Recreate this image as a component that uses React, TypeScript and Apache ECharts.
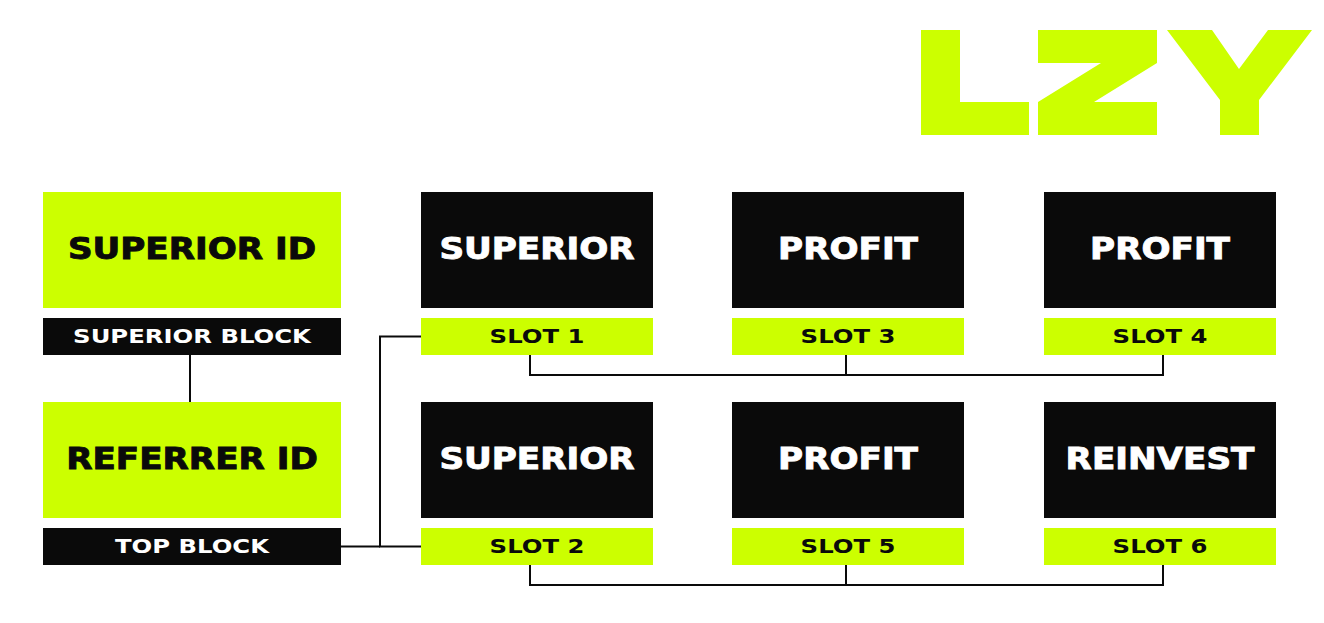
import { useEffect, useRef } from "react";
import * as echarts from "echarts";

const LIME = "#ccff00";
const INK = "#0a0a0a";
const FONT = "DejaVu Sans";

// left column: id box label + block tag
const idLabels = ["SUPERIOR ID", "REFERRER ID"];
const blockLabels = ["SUPERIOR BLOCK", "TOP BLOCK"];
// slot grid, row by row
const topLabels = [
  ["SUPERIOR", "PROFIT", "PROFIT"],
  ["SUPERIOR", "PROFIT", "REINVEST"],
];
const slotLabels = [
  ["SLOT 1", "SLOT 3", "SLOT 4"],
  ["SLOT 2", "SLOT 5", "SLOT 6"],
];

const colX = [421, 732, 1044];
const colW = 232;
const rowY = [192, 402];
const topH = 116;
const tagY = 126;
const tagH = 37;
const joinX = [530, 846, 1163];

const bigText = (cx: number, cy: number, text: string, fill: string) => ({
  type: "text",
  x: cx,
  y: cy - 1,
  scaleX: 1.14,
  style: {
    x: 0,
    y: 0,
    text,
    fill,
    stroke: fill,
    lineWidth: 0.9,
    font: `bold 30px "${FONT}"`,
    textAlign: "center",
    textVerticalAlign: "middle",
  },
});

const smallText = (cx: number, cy: number, text: string, fill: string) => ({
  type: "text",
  x: cx,
  y: cy,
  scaleX: 1.28,
  style: {
    x: 0,
    y: 0,
    text,
    fill,
    font: `bold 19px "${FONT}"`,
    textAlign: "center",
    textVerticalAlign: "middle",
  },
});

const box = (x: number, y: number, w: number, h: number, fill: string) => ({
  type: "rect",
  shape: { x, y, width: w, height: h },
  style: { fill },
});

const wire = (points: number[][]) => ({
  type: "polyline",
  shape: { points },
  style: { stroke: INK, lineWidth: 2, fill: "none" },
});

const App = () => {
  const chartRef = useRef<HTMLDivElement>(null);

  useEffect(() => {
    if (!chartRef.current) return;
    const chart = echarts.init(chartRef.current, null, { renderer: "svg" });

    const els: any[] = [];

    // logo
    els.push({
      type: "polygon",
      shape: { points: [[921, 30], [960, 30], [960, 102], [1029, 102], [1029, 135], [921, 135]] },
      style: { fill: LIME },
    });
    els.push({
      type: "polygon",
      shape: {
        points: [
          [1038, 30], [1157, 30], [1157, 63], [1094, 102], [1157, 102], [1157, 135],
          [1038, 135], [1038, 102], [1101, 63], [1038, 63],
        ],
      },
      style: { fill: LIME },
    });
    els.push({
      type: "polygon",
      shape: {
        points: [
          [1167, 30], [1212, 30], [1239, 69], [1268, 30], [1312, 30], [1259, 100],
          [1259, 135], [1220, 135], [1220, 100],
        ],
      },
      style: { fill: LIME },
    });

    // left column
    idLabels.forEach((label, i) => {
      const y = rowY[i];
      els.push(box(43, y, 298, topH, LIME));
      els.push(bigText(192, y + topH / 2, label, INK));
      els.push(box(43, y + tagY, 298, tagH, INK));
      els.push(smallText(192, y + tagY + tagH / 2, blockLabels[i], "#ffffff"));
    });
    els.push(wire([[190, rowY[0] + tagY + tagH], [190, rowY[1]]]));

    // slot grid
    topLabels.forEach((row, r) => {
      row.forEach((label, c) => {
        const x = colX[c];
        const y = rowY[r];
        els.push(box(x, y, colW, topH, INK));
        els.push(bigText(x + colW / 2, y + topH / 2, label, "#ffffff"));
        els.push(box(x, y + tagY, colW, tagH, LIME));
        els.push(smallText(x + colW / 2, y + tagY + tagH / 2, slotLabels[r][c], INK));
      });
      const bottom = rowY[r] + tagY + tagH;
      const lineY = bottom + 20;
      els.push(wire([[joinX[0], bottom], [joinX[0], lineY], [joinX[2], lineY], [joinX[2], bottom]]));
      els.push(wire([[joinX[1], bottom], [joinX[1], lineY]]));
    });

    // feed from top block into slots 1 and 2
    const s1 = rowY[0] + tagY + tagH / 2;
    const s2 = rowY[1] + tagY + tagH / 2;
    els.push(wire([[421, s1], [380, s1], [380, s2], [421, s2]]));
    els.push(wire([[341, s2], [380, s2]]));

    chart.setOption({
      animation: false,
      graphic: { elements: els },
    });

    return () => {
      chart.dispose();
    };
  }, []);

  return (
    <div
      ref={chartRef}
      style={{ position: "absolute", left: 0, top: 0, width: "1324px", height: "623px", background: "#fff" }}
    />
  );
};

export default App;
